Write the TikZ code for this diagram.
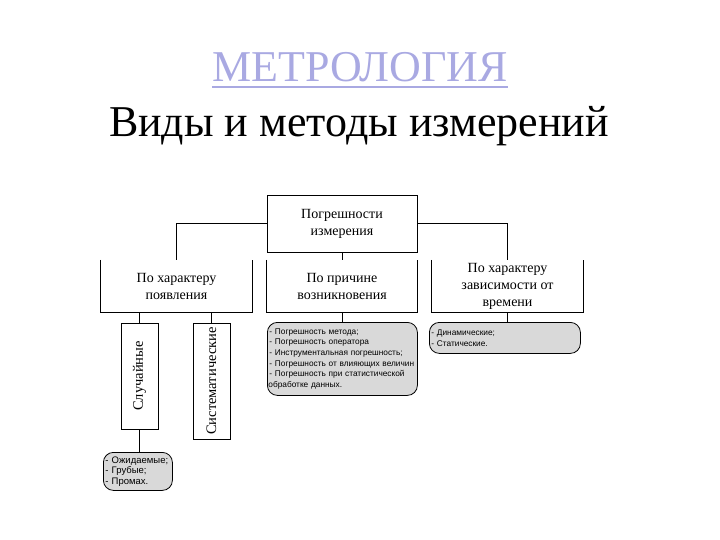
\documentclass[tikz,border=0pt]{standalone}
\usepackage{fontspec}
\setmainfont{Liberation Serif}
\newfontfamily\smallsans{Liberation Sans}
\definecolor{titleblue}{HTML}{A9A9E2}
\definecolor{boxgray}{HTML}{D9D9D9}
\begin{document}
\begin{tikzpicture}[x=1pt,y=-1pt,
  boxtext/.style={font=\fontsize{14}{17}\selectfont, align=center, inner sep=0pt},
  topbox/.style={draw, line width=0.9pt, minimum width=150pt, minimum height=57pt, boxtext},
  openbox/.style={minimum width=151pt, minimum height=52pt, boxtext},
  vbox/.style={draw, line width=0.9pt, rotate=90, minimum height=37pt, boxtext, font=\fontsize{14.5}{17}\selectfont},
  graybox/.style={draw, line width=0.8pt, fill=boxgray, rounded corners=10pt, inner sep=0pt,
    font=\smallsans\fontsize{8.3}{10.6}\selectfont, align=left, anchor=north west},
  conn/.style={line width=0.9pt}]
\useasboundingbox (0,0) rectangle (720,540);
% titles
\node[font=\fontsize{44}{52}\selectfont, text=titleblue, anchor=base, inner sep=0pt] (t1) at (360,82) {МЕТРОЛОГИЯ};
\draw[titleblue, line width=1.6pt] (t1.south west |- 0,87) coordinate (u1) -- (t1.south east |- 0,87) coordinate (u2);
\node[font=\fontsize{44}{52}\selectfont, anchor=base, inner sep=0pt] (t2) at (359,137) {Виды и методы измерений};
% top box
\node[topbox] (top) at (342,223.5) {Погрешности\\измерения};
% second level (open top)
\node[openbox] (p1) at (176.5,286) {По характеру\\появления};
\node[openbox] (p2) at (342,286) {По причине\\возникновения};
\node[openbox] (p3) at (507.5,286) {По характеру\\зависимости от\\времени};
\foreach \n in {p1,p2,p3}{
  \draw[conn] (\n.north west) -- (\n.south west) -- (\n.south east) -- (\n.north east);
}
\draw[conn] (top.west) -| (p1.north);
\draw[conn] (top.east) -| (p3.north);
\draw[conn] (top.south) -- (p2.north);
% vertical boxes
\node[vbox, minimum width=106pt] (s1) at (139.5,376) {Случайные};
\node[vbox, minimum width=116pt] (s2) at (211.5,381) {Систематические};
\draw[conn] (s1.east |- p1.south) -- (s1.east);
\draw[conn] (s2.east |- p1.south) -- (s2.east);
% gray boxes
\node[graybox, text width=69pt, minimum height=38pt, font=\smallsans\fontsize{9.5}{10.5}\selectfont] (g1) at (103,452) {\hspace{2pt}- Ожидаемые;\\\hspace{2pt}- Грубые;\\\hspace{2pt}- Промах.};
\node[graybox, text width=150pt, minimum height=73pt] (g2) at (267,322) {\hspace{2pt}- Погрешность метода;\\\hspace{2pt}- Погрешность оператора\\\hspace{2pt}- Инструментальная погрешность;\\\hspace{2pt}- Погрешность от влияющих величин\\\hspace{2pt}- Погрешность при статистической\\\hspace{1pt}обработке данных.};
\node[graybox, text width=151pt, minimum height=31pt] (g3) at (429,322) {\hspace{2pt}- Динамические;\\\hspace{2pt}- Статические.\\[8pt]};
\draw[conn] (s1.west) -- (s1.west |- g1.north);
\draw[conn] (p2.south) -- (g2.north -| p2.south);
\draw[conn] (p3.south) -- (g3.north -| p3.south);
\end{tikzpicture}
\end{document}
